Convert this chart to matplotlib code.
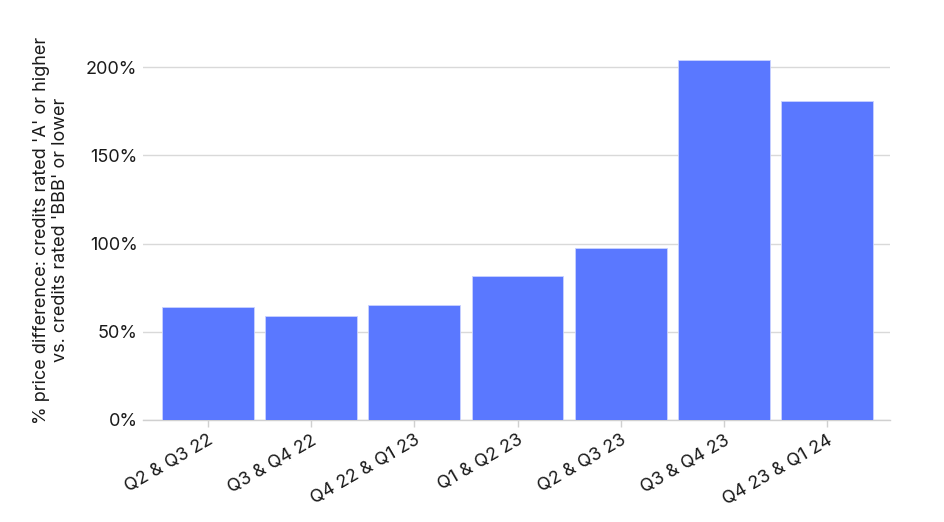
import matplotlib
matplotlib.use("Agg")
import matplotlib.pyplot as plt
from matplotlib.ticker import FuncFormatter

categories = ["Q2 & Q3 22", "Q3 & Q4 22", "Q4 22 & Q1 23", "Q1 & Q2 23",
              "Q2 & Q3 23", "Q3 & Q4 23", "Q4 23 & Q1 24"]
values = [64.0, 59.0, 65.0, 81.7, 97.3, 204.1, 180.6]
yticks = [0, 50, 100, 150, 200]

plt.rcParams['font.family'] = ['Inter', 'DejaVu Sans']

fig = plt.figure(figsize=(9.44, 5.22), dpi=100)
ax = fig.add_axes([143/944, 1 - 420/522, (890-143)/944, (420-40)/522])

x = list(range(len(categories)))
ax.bar(x, values, width=0.89, color="#5A78FF", edgecolor="#C9D2FF", linewidth=0.6, zorder=3)

ax.set_xlim(-0.63, 6.61)
ax.set_ylim(0, 215.3)
ax.set_yticks(yticks)
ax.yaxis.set_major_formatter(FuncFormatter(lambda v, p: f"{int(v)}%"))
ax.grid(axis="y", color="#D9D9D9", linewidth=1.0, zorder=0)
for s in ["top", "right", "left"]:
    ax.spines[s].set_visible(False)
ax.spines["bottom"].set_color("#D0D0D0")
ax.spines["bottom"].set_linewidth(1.0)
ax.tick_params(axis="y", length=0, pad=4, labelsize=13, labelcolor="#1A1A1A")
ax.tick_params(axis="x", length=5, color="#D0D0D0", width=1, labelsize=13, labelcolor="#1A1A1A")
ax.set_xticks(x)
ax.set_xticklabels(categories, rotation=30, ha="right", rotation_mode="anchor")

ax.set_ylabel("% price difference: credits rated 'A' or higher\nvs. credits rated 'BBB' or lower",
              fontsize=13, color="#1A1A1A", labelpad=12, linespacing=1.15)

fig.savefig("out.png", dpi=100)
